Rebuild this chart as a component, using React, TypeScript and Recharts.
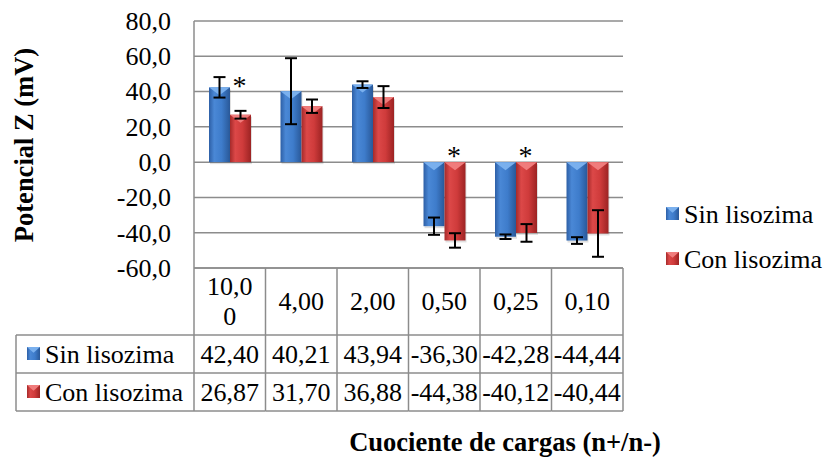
import React from 'react';
import { BarChart, Bar, XAxis, YAxis, CartesianGrid, ErrorBar } from 'recharts';

// ---------- data ----------
const categories = ['10,00', '4,00', '2,00', '0,50', '0,25', '0,10'];
const sinLisozima = [42.4, 40.21, 43.94, -36.3, -42.28, -44.44];
const conLisozima = [26.87, 31.7, 36.88, -44.38, -40.12, -40.44];
const sinError = [5.8, 18.7, 1.9, 4.9, 1.3, 1.9];
const conError = [2.2, 3.8, 6.2, 4.1, 5.0, 13.2];
const significant = [true, false, false, true, true, false];
const yTicks = [-60, -40, -20, 0, 20, 40, 60, 80];
const seriesNames = ['Sin lisozima', 'Con lisozima'];
const yTitle = 'Potencial Z (mV)';
const xTitle = 'Cuociente de cargas (n+/n-)';

const data = categories.map((c, i) => ({
  cat: c,
  sin: sinLisozima[i],
  con: conLisozima[i],
  sinErr: sinError[i],
  conErr: conError[i],
  sig: significant[i],
}));

// ---------- layout / style ----------
const W = 827;
const H = 470;
const PLOT_LEFT = 194;
const PLOT_RIGHT = 623;
const PLOT_TOP = 21;
const PLOT_BOTTOM = 268;
const PLOT_W = PLOT_RIGHT - PLOT_LEFT;
const TABLE_LEFT = 16;
const HEADER_H = 67;
const ROW_H = 38;
const FONT = '"Liberation Serif", "Times New Roman", Times, serif';
const GRID = '#8c8c8c';
const FS = 26;

const COLORS = [
  { grad: 'gradBlue', tip: '#7ab0ee', swatch: '#3b78c6' },
  { grad: 'gradRed', tip: '#f07c7c', swatch: '#cf3b3b' },
];

const fmt1 = (v: number) => v.toFixed(1).replace('.', ',');
const fmt2 = (v: number) => v.toFixed(2).replace('.', ',');

const Swatch = ({ x, y, s, k }: { x: number; y: number; s: number; k: number }) => (
  <g>
    <rect x={x} y={y} width={s} height={s} fill={`url(#${COLORS[k].grad})`} />
    <polygon points={`${x},${y} ${x + s},${y} ${x + s / 2},${y + s * 0.45}`} fill={COLORS[k].tip} />
  </g>
);

const makeShape = (k: number) => (props: any) => {
  const { x, y, width, height, payload } = props;
  const top = Math.min(y, y + height);
  const h = Math.abs(height);
  const tipH = Math.min(8, h);
  const c = COLORS[k];
  let star = null;
  if (k === 0 && payload && payload.sig) {
    const cy = top - (payload.sin > 0 ? 5 : 10);
    star = (
      <text x={x + width * 1.5 - 1} y={cy + 13} textAnchor="middle" fontFamily={FONT} fontSize={28} fill="#000">
        *
      </text>
    );
  }
  return (
    <g>
      <rect x={x + 1} y={top + 2} width={width} height={h} fill="#000" opacity={0.12} />
      <rect x={x} y={top} width={width} height={h} fill={`url(#${c.grad})`} />
      <polygon points={`${x},${top} ${x + width},${top} ${x + width / 2},${top + tipH}`} fill={c.tip} />
      {star}
    </g>
  );
};

const YTick = (props: any) => {
  const { x, y, payload } = props;
  return (
    <text x={x} y={y} dy="0.34em" textAnchor="end" fontFamily={FONT} fontSize={FS} fill="#000">
      {fmt1(payload.value)}
    </text>
  );
};

const TableTick = (props: any) => {
  const { x, y, payload } = props;
  const i: number = payload && payload.index != null ? payload.index : props.index;
  const colW = PLOT_W / categories.length;
  const left = x - colW / 2;
  const right = x + colW / 2;
  const r1 = y + HEADER_H;
  const r2 = r1 + ROW_H;
  const r3 = r2 + ROW_H;
  const label: string = String(payload.value);
  const lines = label.length > 4 ? [label.slice(0, 4), label.slice(4)] : [label];
  const headerMid = y + HEADER_H / 2;
  const lineGap = 30;
  const textProps = { fontFamily: FONT, fontSize: FS, fill: '#000' } as const;
  return (
    <g>
      {lines.map((ln, j) => (
        <text
          key={j}
          x={x}
          y={headerMid + (j - (lines.length - 1) / 2) * lineGap}
          dy="0.34em"
          textAnchor="middle"
          {...textProps}
        >
          {ln}
        </text>
      ))}
      <text x={x} y={r1 + ROW_H / 2} dy="0.34em" textAnchor="middle" {...textProps}>
        {fmt2(sinLisozima[i])}
      </text>
      <text x={x} y={r2 + ROW_H / 2} dy="0.34em" textAnchor="middle" {...textProps}>
        {fmt2(conLisozima[i])}
      </text>
      <line x1={right} y1={y} x2={right} y2={r3} stroke={GRID} strokeWidth={1.5} />
      <line x1={left} y1={r1} x2={right} y2={r1} stroke={GRID} strokeWidth={1.5} />
      <line x1={left} y1={r2} x2={right} y2={r2} stroke={GRID} strokeWidth={1.5} />
      <line x1={left} y1={r3} x2={right} y2={r3} stroke={GRID} strokeWidth={1.5} />
      {i === 0 && (
        <g>
          <line x1={left} y1={y} x2={left} y2={r3} stroke={GRID} strokeWidth={1.5} />
          <line x1={TABLE_LEFT} y1={r1} x2={left} y2={r1} stroke={GRID} strokeWidth={1.5} />
          <line x1={TABLE_LEFT} y1={r2} x2={left} y2={r2} stroke={GRID} strokeWidth={1.5} />
          <line x1={TABLE_LEFT} y1={r3} x2={left} y2={r3} stroke={GRID} strokeWidth={1.5} />
          <line x1={TABLE_LEFT} y1={r1} x2={TABLE_LEFT} y2={r3} stroke={GRID} strokeWidth={1.5} />
          {seriesNames.map((nm, k) => {
            const cy = r1 + ROW_H * k + ROW_H / 2;
            return (
              <g key={nm}>
                <Swatch x={27} y={cy - 7} s={13} k={k} />
                <text x={45} y={cy} dy="0.34em" textAnchor="start" {...textProps}>
                  {nm}
                </text>
              </g>
            );
          })}
        </g>
      )}
    </g>
  );
};

export default function App() {
  return (
    <div style={{ position: 'absolute', left: 0, top: 0, width: W, height: H, background: '#fff' }}>
      <BarChart
        width={W}
        height={H}
        data={data}
        margin={{ top: PLOT_TOP, right: W - PLOT_RIGHT, left: 0, bottom: 0 }}
        barGap={0}
        barSize={21}
      >
        <defs>
          <linearGradient id="gradBlue" x1="0" y1="0" x2="1" y2="0">
            <stop offset="0%" stopColor="#2d5fa6" />
            <stop offset="25%" stopColor="#4a88d6" />
            <stop offset="60%" stopColor="#3e7ccb" />
            <stop offset="100%" stopColor="#295898" />
          </linearGradient>
          <linearGradient id="gradRed" x1="0" y1="0" x2="1" y2="0">
            <stop offset="0%" stopColor="#a52a2a" />
            <stop offset="25%" stopColor="#dc4848" />
            <stop offset="60%" stopColor="#cf3b3b" />
            <stop offset="100%" stopColor="#9c2323" />
          </linearGradient>
        </defs>
        <CartesianGrid horizontal vertical={false} stroke={GRID} strokeWidth={1.5} />
        <YAxis
          domain={[-60, 80]}
          ticks={yTicks}
          interval={0}
          width={PLOT_LEFT}
          tickSize={0}
          tickMargin={23}
          tickLine={false}
          axisLine={{ stroke: GRID, strokeWidth: 1.5 }}
          tick={<YTick />}
        />
        <XAxis
          dataKey="cat"
          height={H - PLOT_BOTTOM}
          interval={0}
          tickSize={0}
          tickMargin={0}
          tickLine={false}
          axisLine={{ stroke: GRID, strokeWidth: 1.5 }}
          tick={<TableTick />}
        />
        <Bar dataKey="sin" name={seriesNames[0]} isAnimationActive={false} shape={makeShape(0)}>
          <ErrorBar dataKey="sinErr" width={6} stroke="#000" strokeWidth={2} direction="y" isAnimationActive={false} />
        </Bar>
        <Bar dataKey="con" name={seriesNames[1]} isAnimationActive={false} shape={makeShape(1)}>
          <ErrorBar dataKey="conErr" width={6} stroke="#000" strokeWidth={2} direction="y" isAnimationActive={false} />
        </Bar>
      </BarChart>
      <svg
        width={W}
        height={H}
        style={{ position: 'absolute', left: 0, top: 0, pointerEvents: 'none' }}
      >
        <text
          x={24}
          y={145}
          dy="0.34em"
          transform="rotate(-90 24 145)"
          textAnchor="middle"
          fontFamily={FONT}
          fontWeight="bold"
          fontSize={26.5}
          fill="#000"
        >
          {yTitle}
        </text>
        <text x={505} y={451} textAnchor="middle" fontFamily={FONT} fontWeight="bold" fontSize={26.5} fill="#000">
          {xTitle}
        </text>
        {seriesNames.map((nm, k) => {
          const cy = 214 + k * 45;
          return (
            <g key={nm}>
              <Swatch x={666} y={cy - 7} s={13} k={k} />
              <text x={684} y={cy} dy="0.34em" fontFamily={FONT} fontSize={FS} fill="#000">
                {nm}
              </text>
            </g>
          );
        })}
      </svg>
    </div>
  );
}
